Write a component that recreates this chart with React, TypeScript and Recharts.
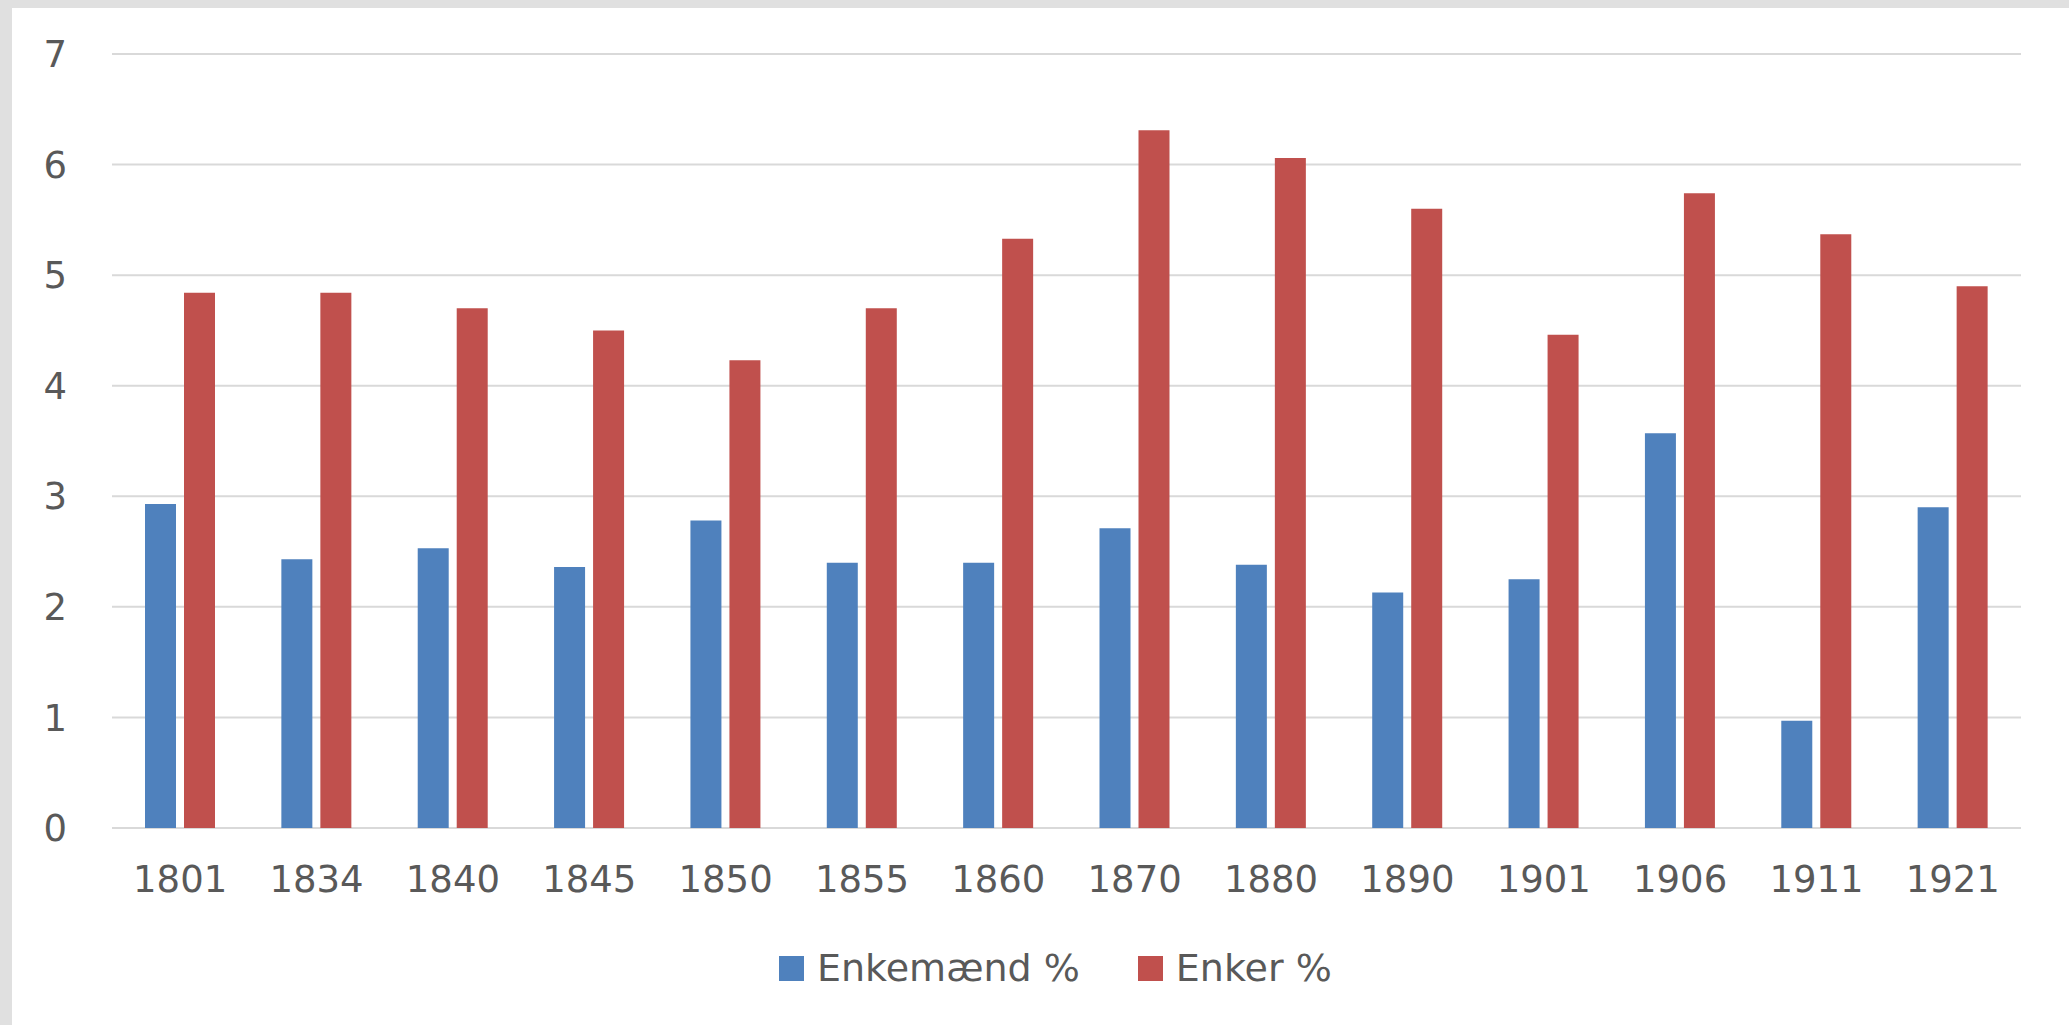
import { BarChart, Bar, XAxis, YAxis, CartesianGrid, Legend } from 'recharts';

const years = ['1801', '1834', '1840', '1845', '1850', '1855', '1860', '1870', '1880', '1890', '1901', '1906', '1911', '1921'];
const enkemaend = [2.93, 2.43, 2.53, 2.36, 2.78, 2.4, 2.4, 2.71, 2.38, 2.13, 2.25, 3.57, 0.97, 2.9];
const enker = [4.84, 4.84, 4.7, 4.5, 4.23, 4.7, 5.33, 6.31, 6.06, 5.6, 4.46, 5.74, 5.37, 4.9];
const yTicks = [0, 1, 2, 3, 4, 5, 6, 7];

const chartData = years.map((year, i) => ({
  year,
  enkemaend: enkemaend[i],
  enker: enker[i],
}));

const textColor = '#595959';
const font = '"DejaVu Sans", sans-serif';

function LegendContent() {
  const items = [
    { label: 'Enkemænd %', color: '#4F81BD' },
    { label: 'Enker %', color: '#C0504D' },
  ];
  return (
    <div style={{ display: 'flex', alignItems: 'center', height: 40, marginTop: 0, marginLeft: 767, fontFamily: font, fontSize: 38, color: textColor }}>
      {items.map((item, i) => (
        <div key={item.label} style={{ display: 'flex', alignItems: 'center', marginRight: i === 0 ? 58 : 0 }}>
          <span style={{ width: 25, height: 25, background: item.color, marginRight: 13, display: 'inline-block' }} />
          <span style={{ lineHeight: '40px' }}>{item.label}</span>
        </div>
      ))}
    </div>
  );
}

export default function App() {
  return (
    <div style={{ position: 'absolute', left: 0, top: 0, width: 2069, height: 1025, background: '#e0e0e0' }}>
      <div style={{ position: 'absolute', left: 12, top: 8, width: 2057, height: 1017, background: '#fff' }}>
        <BarChart
          width={2057}
          height={1017}
          data={chartData}
          margin={{ top: 46, right: 48, left: 0, bottom: 0 }}
          barSize={31}
          barGap={8}
        >
          <CartesianGrid vertical={false} stroke="#d9d9d9" strokeWidth={2} />
          <XAxis
            dataKey="year"
            axisLine={false}
            tickLine={false}
            height={120}
            tickSize={0}
            tickMargin={38}
            tick={{ fill: textColor, fontSize: 37, fontFamily: font }}
            interval={0}
          />
          <YAxis
            domain={[0, 7]}
            ticks={yTicks}
            axisLine={false}
            tickLine={false}
            width={100}
            tickSize={0}
            tickMargin={45}
            tick={{ fill: textColor, fontSize: 37, fontFamily: font }}
          />
          <Legend verticalAlign="bottom" height={77} wrapperStyle={{ left: 0, width: 2057 }} content={<LegendContent />} />
          <Bar dataKey="enkemaend" name="Enkemænd %" fill="#4F81BD" isAnimationActive={false} />
          <Bar dataKey="enker" name="Enker %" fill="#C0504D" isAnimationActive={false} />
        </BarChart>
      </div>
    </div>
  );
}
